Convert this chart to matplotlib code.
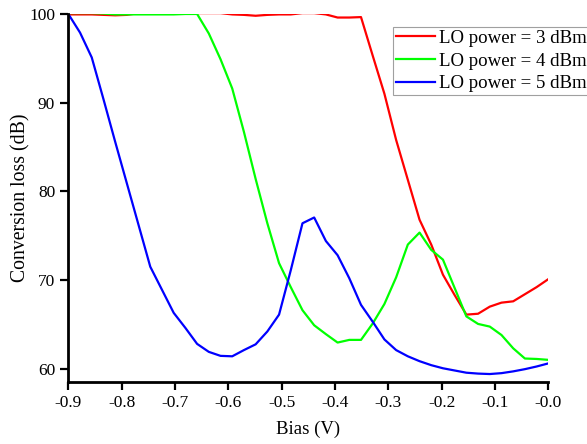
import numpy as np
import matplotlib

matplotlib.use("Agg")
import matplotlib.pyplot as plt

plt.rcParams["font.family"] = ["Liberation Serif", "DejaVu Serif"]
plt.rcParams["axes.unicode_minus"] = False

# bias sweep, 42 points from -0.9 V to 0 V
bias = np.linspace(-0.9, 0.0, 42)

loss_3dbm = [99.95, 99.95, 99.95, 99.9, 99.85, 99.9, 100.1, 100.1, 100.1, 100.1,
             100.1, 100.1, 100.1, 100.1, 99.95, 99.9, 99.8, 99.9, 99.95, 99.95,
             100.1, 100.1, 99.95, 99.6, 99.6, 99.65, 95.3, 91.0, 85.8, 81.3,
             76.8, 74.0, 70.6, 68.3, 66.1, 66.2, 67.0, 67.45, 67.6, 68.4,
             69.2, 70.1]
loss_4dbm = [100.1, 100.1, 100.1, 100.05, 99.95, 99.95, 99.95, 99.95, 99.95, 99.95,
             100.0, 100.0, 97.8, 94.9, 91.6, 86.7, 81.4, 76.4, 71.9, 69.2,
             66.6, 64.9, 63.9, 62.95, 63.25, 63.25, 65.1, 67.3, 70.3, 74.0,
             75.35, 73.4, 72.3, 69.1, 65.9, 65.05, 64.75, 63.8, 62.3, 61.15,
             61.1, 61.0]
loss_5dbm = [100.0, 97.9, 95.1, 90.4, 85.6, 80.9, 76.2, 71.5, 68.9, 66.3,
             64.6, 62.8, 61.9, 61.45, 61.4, 62.1, 62.75, 64.2, 66.1, 71.1,
             76.4, 77.05, 74.4, 72.8, 70.2, 67.2, 65.3, 63.3, 62.1, 61.4,
             60.85, 60.4, 60.05, 59.8, 59.55, 59.45, 59.4, 59.5, 59.7, 59.95,
             60.25, 60.6]

labels = ["LO power = 3 dBm", "LO power = 4 dBm", "LO power = 5 dBm"]
colors = ["#ff0000", "#00ff00", "#0000ff"]

fig = plt.figure(figsize=(5.87, 4.44), dpi=100)
ax = fig.add_axes([0.1164, 0.1396, 0.8177, 0.8289])

for y, lab, c in zip([loss_3dbm, loss_4dbm, loss_5dbm], labels, colors):
    ax.plot(bias, y, color=c, lw=1.6, label=lab)

ax.set_xlim(-0.9, 0.0)
ax.set_ylim(58.5, 100)
ax.set_xticks(np.arange(-0.9, 0.01, 0.1))
ax.set_xticklabels(["%.1f" % v for v in np.arange(-0.9, 0.01, 0.1)])
ax.set_yticks([60, 70, 80, 90, 100])

for s in ["top", "right"]:
    ax.spines[s].set_visible(False)
for s in ["left", "bottom"]:
    ax.spines[s].set_linewidth(2.0)
ax.tick_params(direction="out", length=5.5, width=1.6, labelsize=12.5, pad=4)

ax.set_xlabel("Bias (V)", fontsize=13.5, labelpad=7)
ax.set_ylabel("Conversion loss (dB)", fontsize=14.2, labelpad=-1)

leg = fig.legend(loc="upper left", bbox_to_anchor=(0.669, 0.94),
                 fontsize=13.6, frameon=True, fancybox=False,
                 handlelength=2.1, handletextpad=0.2, borderpad=0.15,
                 labelspacing=0.3, borderaxespad=0)
leg.get_frame().set_edgecolor("#888888")
leg.get_frame().set_linewidth(0.8)

fig.savefig("out.png", dpi=100)
